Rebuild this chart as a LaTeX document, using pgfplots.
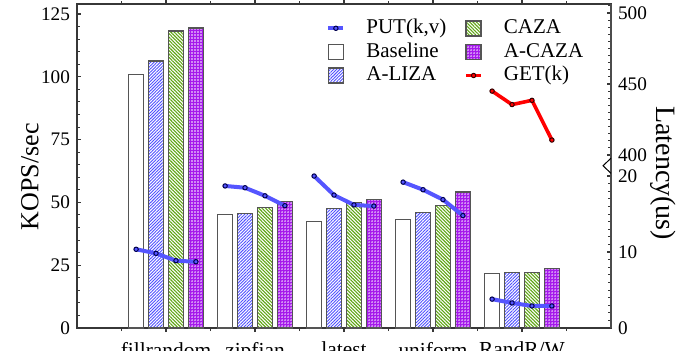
\documentclass[border=0pt]{standalone}
\usepackage{fontspec}
\setmainfont{Liberation Serif}
\usepackage{pgfplots}
\pgfplotsset{compat=1.18}
\usetikzlibrary{patterns.meta}
\definecolor{putblue}{RGB}{85,85,255}
\definecolor{hatchblue}{RGB}{80,80,255}
\definecolor{hatchgreen}{RGB}{95,165,20}
\definecolor{acaza}{RGB}{165,25,235}
\definecolor{bordergray}{RGB}{85,85,85}
\definecolor{axisgray}{RGB}{55,55,55}
\pgfplotsset{
  barleg/.style={legend image code/.code={\draw[##1] (0pt,-3.75pt) rectangle (7.5pt,3.75pt);}},
  lineleg/.style={legend image code/.code={%
    \draw[##1, mark=none] (0pt,0pt) -- (7.5pt,0pt);
    \draw[##1] plot[only marks] coordinates {(3.75pt,0pt)};}},
  sbase/.style={draw=bordergray, line width=0.75pt, fill=white},
  saliza/.style={draw=bordergray, line width=0.75pt, fill=white, postaction={pattern={Lines[angle=45,distance=1.1pt,line width=0.45pt]}, pattern color=hatchblue}},
  scaza/.style={draw=bordergray, line width=0.75pt, fill=white, postaction={pattern={Lines[angle=-45,distance=1.2pt,line width=0.55pt]}, pattern color=hatchgreen}},
  sacaza/.style={draw=bordergray, line width=0.75pt, fill=acaza, postaction={pattern={Dots[distance=1.5pt,radius=0.38pt]}, pattern color=white}},
  sput/.style={color=putblue, line width=2pt, line join=round, mark=*, mark size=1.1pt, mark options={fill=putblue, draw=black!70!blue, line width=0.5pt}},
  sget/.style={color=red, line width=1.8pt, line join=round, mark=*, mark size=1.1pt, mark options={fill=red, draw=black!80!red, line width=0.5pt}},
  common/.style={
    scale only axis, width=267pt, height=162pt,
    xmin=-1, xmax=5, ymin=0, ymax=129,
    tick align=inside,
    major tick length=2pt, minor tick length=1.5pt,
    every tick/.style={axisgray, line width=0.6pt},
    every minor tick/.style={axisgray, line width=0.5pt},
    /pgf/number format/assume math mode=true,
    tick label style={font=\fontsize{9.6}{10}\selectfont},
  },
}
\begin{document}
\begin{tikzpicture}
\begin{axis}[common,
  name=ax,
  axis line style={axisgray, line width=0.8pt},
  xtick={0,1,2,3,4},
  xticklabels={fillrandom,zipfian,latest,uniform,RandR/W},
  minor xtick={-0.5,0.5,1.5,2.5,3.5,4.5},
  xtick pos=both,
  x tick label style={font=\fontsize{10.7}{11}\selectfont, yshift=-1.5pt},
  ytick={0,25,50,75,100,125},
  yticklabel={\pgfmathprintnumber[assume math mode=true]{\tick}},
  minor y tick num=4,
  ytick pos=left,
  every axis y label/.style={at={(axis description cs:-0.088,0.467)}, anchor=center, rotate=90},
  ylabel={KOPS/sec},
  label style={font=\fontsize{13}{14}\selectfont},
  ybar, bar width=0.168,
]
\addplot[sbase, bar shift=-0.336] coordinates {(0,101) (1,45.2) (2,42.5) (3,43.3) (4,21.7)};
\addplot[saliza, bar shift=-0.112] coordinates {(0,106.4) (1,45.6) (2,47.5) (3,45.9) (4,22.2)};
\addplot[scaza, bar shift=0.112] coordinates {(0,118.2) (1,47.9) (2,50) (3,48.8) (4,22.2)};
\addplot[sacaza, bar shift=0.336] coordinates {(0,119.4) (1,50.4) (2,51.2) (3,54.2) (4,23.7)};
\end{axis}
\begin{axis}[common,
  axis x line=none,
  axis y line*=right,
  y axis line style={gray!60!black, line width=1pt},
  ytick={0,30.25,60.5,68.9,97.15,125.4},
  yticklabels={0,10,20,400,450,500},
  minor ytick={3.025,6.05,9.075,12.1,15.125,18.15,21.175,24.2,27.225,33.275,36.3,39.325,42.35,45.375,48.4,51.425,54.45,57.475,71.725,74.55,77.375,80.2,83.025,85.85,88.675,91.5,94.325,99.975,102.8,105.625,108.45,111.275,114.1,116.925,119.75,122.575,128.225},
  every axis y label/.style={at={(axis description cs:1.097,0.478)}, anchor=center, rotate=-90},
  ylabel={Latency(us)},
  label style={font=\fontsize{14}{15}\selectfont},
  legend columns=2,
  legend cell align=left,
  legend style={at={(axis description cs:0.455,0.975)}, anchor=north west, draw=none, fill=none,
    font=\fontsize{10.5}{11}\selectfont,
    nodes={text height=7.6pt, text depth=2.2pt, inner ysep=1.0pt},
    /tikz/column 1/.style={column sep=8.5pt},
    /tikz/column 2/.style={column sep=7pt},
    /tikz/column 3/.style={column sep=8.5pt}},
]
\addplot[sput, forget plot, y filter/.expression={y*3.025}] coordinates {(-0.336,10.36) (-0.112,9.83) (0.112,8.86) (0.336,8.72)};
\addplot[sput, forget plot, y filter/.expression={y*3.025}] coordinates {(0.664,18.7) (0.888,18.46) (1.112,17.4) (1.336,16.1)};
\addplot[sput, forget plot, y filter/.expression={y*3.025}] coordinates {(1.664,20.0) (1.888,17.5) (2.112,16.2) (2.336,16.05)};
\addplot[sput, forget plot, y filter/.expression={y*3.025}] coordinates {(2.664,19.2) (2.888,18.2) (3.112,16.9) (3.336,14.8)};
\addplot[sput, forget plot, y filter/.expression={y*3.025}] coordinates {(3.664,3.8) (3.888,3.3) (4.112,2.9) (4.336,2.9)};
\addplot[sget, forget plot, y filter/.expression={68.9+(y-400)*0.565}] coordinates {(3.664,445) (3.888,435.5) (4.112,438.5) (4.336,410.5)};
\draw[black, line width=0.5pt] (axis cs:5,67.6) -- ([xshift=-4pt]axis cs:5,64.6) -- (axis cs:5,61.6);
\addlegendimage{lineleg, sput}
\addlegendentry{PUT(k,v)}
\addlegendimage{barleg, scaza}
\addlegendentry{CAZA}
\addlegendimage{barleg, sbase}
\addlegendentry{Baseline}
\addlegendimage{barleg, sacaza}
\addlegendentry{A-CAZA}
\addlegendimage{barleg, saliza}
\addlegendentry{A-LIZA}
\addlegendimage{lineleg, sget}
\addlegendentry{GET(k)}
\end{axis}
\pgfresetboundingbox
\useasboundingbox ([xshift=-38.5pt, yshift=-11pt]ax.south west) rectangle ([xshift=39.5pt, yshift=2pt]ax.north east);
\end{tikzpicture}
\end{document}
